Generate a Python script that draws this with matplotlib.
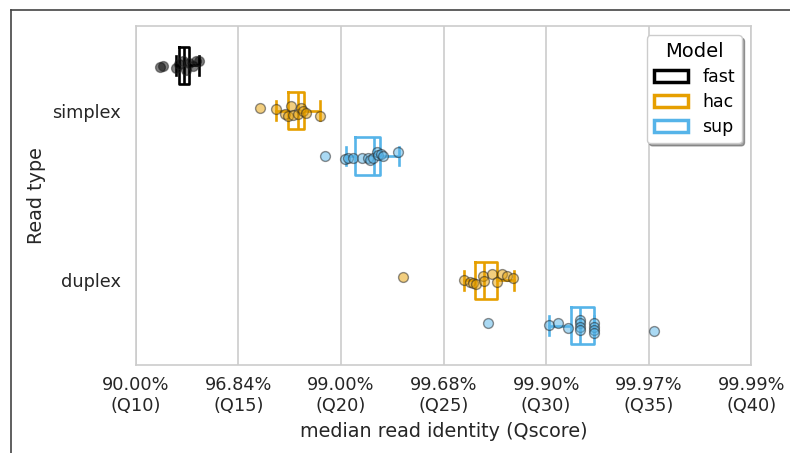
import matplotlib
matplotlib.use("Agg")
import matplotlib.pyplot as plt
from matplotlib.lines import Line2D
from matplotlib.patches import Patch

# read types and basecalling models
read_types = ["simplex", "duplex"]
models = ["fast", "hac", "sup"]
colors = {"fast": "black", "hac": "#E69F00", "sup": "#56B4E9"}

# per-run median Qscore
q_simplex_fast = [11.16, 11.31, 11.96, 12.12, 12.29, 12.45, 12.61, 12.77, 12.94, 13.10]
q_simplex_hac = [16.03, 16.84, 17.25, 17.41, 17.58, 17.66, 17.90, 18.07, 18.15, 18.31, 18.96]
q_simplex_sup = [19.20, 20.21, 20.34, 20.59, 21.00, 21.32, 21.40, 21.56, 21.73, 21.81,
                 21.97, 22.05, 22.78]
q_duplex_hac = [23.01, 26.00, 26.28, 26.45, 26.56, 26.93, 26.98, 27.37, 27.59, 27.83,
                28.08, 28.40]
q_duplex_sup = [27.16, 30.14, 30.60, 31.08, 31.66, 31.66, 31.66, 31.66, 32.34, 32.34,
                32.34, 32.34, 35.27]

# strip jitter (category units)
jit_simplex_fast = [0.012, 0.006, 0.018, -0.006, -0.024, 0.030, -0.012, 0.006, -0.024, -0.024]
jit_simplex_hac = [-0.018, -0.012, 0.018, 0.030, -0.030, 0.024, 0.018, -0.018, 0.0, 0.012, 0.030]
jit_simplex_sup = [0.0, 0.018, 0.012, 0.012, 0.012, 0.012, 0.024, 0.012, -0.024, -0.006,
                   -0.012, 0.0, -0.024]
jit_duplex_hac = [-0.018, 0.0, 0.012, 0.018, 0.024, -0.024, 0.006, -0.036, 0.012, -0.036,
                  -0.024, -0.012]
jit_duplex_sup = [-0.012, -0.006, -0.012, 0.012, -0.030, -0.012, 0.006, 0.024, -0.012, 0.006,
                  0.024, 0.042, 0.030]

# box statistics (q1, median, q3, whisker low, whisker high)
box_simplex_fast = [12.12, 12.37, 12.61, 11.96, 13.10]
box_simplex_hac = [17.41, 17.90, 18.20, 16.84, 18.99]
box_simplex_sup = [20.70, 21.61, 21.89, 20.26, 22.82]
box_duplex_hac = [26.53, 26.97, 27.59, 26.00, 28.43]
box_duplex_sup = [31.21, 31.66, 32.34, 30.14, 32.34]

groups = [
    ("simplex", "fast", q_simplex_fast, jit_simplex_fast, box_simplex_fast),
    ("simplex", "hac", q_simplex_hac, jit_simplex_hac, box_simplex_hac),
    ("simplex", "sup", q_simplex_sup, jit_simplex_sup, box_simplex_sup),
    ("duplex", "hac", q_duplex_hac, jit_duplex_hac, box_duplex_hac),
    ("duplex", "sup", q_duplex_sup, jit_duplex_sup, box_duplex_sup),
]

qticks = [10, 15, 20, 25, 30, 35, 40]
qtick_labels = ["90.00%\n(Q10)", "96.84%\n(Q15)", "99.00%\n(Q20)", "99.68%\n(Q25)",
                "99.90%\n(Q30)", "99.97%\n(Q35)", "99.99%\n(Q40)"]

fig = plt.figure(figsize=(7.9, 4.53), dpi=100)
ax = fig.add_axes([0.172, 0.194, 0.779, 0.749])

hue_w = 0.8 / len(models)
for rt, model, vals, jit, box in groups:
    pos = read_types.index(rt) + (models.index(model) - 1) * hue_w
    c = colors[model]
    stats = [dict(q1=box[0], med=box[1], q3=box[2], whislo=box[3], whishi=box[4])]
    ax.bxp(stats, positions=[pos], widths=0.22, vert=False, showfliers=False,
           boxprops=dict(color=c, linewidth=1.9),
           whiskerprops=dict(color=c, linewidth=1.9),
           capprops=dict(color=c, linewidth=1.9),
           medianprops=dict(color=c, linewidth=1.9), zorder=2)
    ys = [pos + j for j in jit]
    ax.scatter(vals, ys, s=50, color=c, alpha=0.5, edgecolor="#222222",
               linewidth=1, zorder=3)

ax.set_xlim(10, 40)
ax.set_ylim(1.5, -0.5)
ax.set_xticks(qticks)
ax.set_xticklabels(qtick_labels, fontsize=12.8, color="#262626")
ax.set_yticks([0, 1])
ax.set_yticklabels(read_types, fontsize=12.8, color="#262626")
ax.tick_params(axis="x", length=0, pad=8)
ax.tick_params(axis="y", length=0, pad=11)
ax.grid(axis="x", color="#cccccc", linewidth=1.2)
ax.set_axisbelow(True)
for sp in ax.spines.values():
    sp.set_color("#cccccc")
    sp.set_linewidth(1.2)
ax.set_xlabel("median read identity (Qscore)", fontsize=13.8, color="#262626", labelpad=5)
ax.set_ylabel("Read type", fontsize=13.8, color="#262626", labelpad=4)

handles = [Patch(facecolor="white", edgecolor=colors[m], linewidth=2.5, label=m) for m in models]
leg = ax.legend(handles=handles, title="Model", loc="upper right", fontsize=12.5,
                title_fontsize=14, shadow=True, frameon=True, borderaxespad=0.55,
                labelspacing=0.4)
leg.get_frame().set_edgecolor("#cccccc")

# outer frame lines of the screenshot
fig.add_artist(Line2D([11 / 790, 11 / 790], [0, 1 - 10 / 453], color="#444444", linewidth=1.2))
fig.add_artist(Line2D([11 / 790, 1], [1 - 10 / 453, 1 - 10 / 453], color="#444444", linewidth=1.2))

fig.savefig("out.png", dpi=100)
